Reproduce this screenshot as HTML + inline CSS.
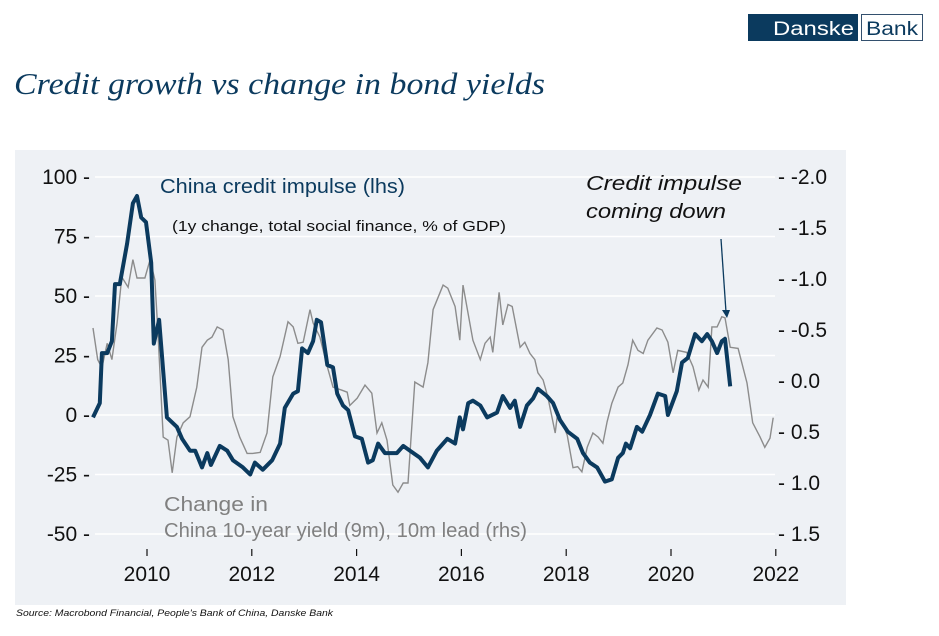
<!DOCTYPE html>
<html><head><meta charset="utf-8"><style>
html,body{margin:0;padding:0;background:#fff;}
body{width:939px;height:631px;overflow:hidden;position:relative;font-family:"Liberation Sans",sans-serif;}
</style></head><body>
<svg width="939" height="631" viewBox="0 0 939 631" xmlns="http://www.w3.org/2000/svg">
  <rect x="748" y="14" width="110" height="27" fill="#0b3a5e"/>
  <text x="773" y="35" textLength="81" lengthAdjust="spacingAndGlyphs" font-size="19" fill="#fff" font-family="Liberation Sans, sans-serif">Danske</text>
  <rect x="861.5" y="14.5" width="61" height="26" fill="#fff" stroke="#33506e"/>
  <text x="866" y="35" textLength="52" lengthAdjust="spacingAndGlyphs" font-size="19" fill="#0b3a5e" font-family="Liberation Sans, sans-serif">Bank</text>
  <text x="14" y="94" textLength="531" lengthAdjust="spacingAndGlyphs" font-size="31" font-style="italic" fill="#0b3a5e" font-family="Liberation Serif, serif">Credit growth vs change in bond yields</text>
  <rect x="15" y="150" width="831" height="455" fill="#eef1f5"/>
  <g id="grid"></g>
  <g id="axes" font-family="Liberation Sans, sans-serif" font-size="21" fill="#111"></g>
  <g id="series"></g>
  <text x="160" y="193" textLength="245" lengthAdjust="spacingAndGlyphs" font-size="20" fill="#0b3a5e">China credit impulse (lhs)</text>
  <text x="172" y="231" textLength="334" lengthAdjust="spacingAndGlyphs" font-size="15" fill="#111">(1y change, total social finance, % of GDP)</text>
  <text x="164" y="511" textLength="104" lengthAdjust="spacingAndGlyphs" font-size="20" fill="#808080">Change in</text>
  <text x="164" y="537" textLength="363" lengthAdjust="spacingAndGlyphs" font-size="20" fill="#808080">China 10-year yield (9m), 10m lead (rhs)</text>
  <text x="586" y="190" textLength="156" lengthAdjust="spacingAndGlyphs" font-size="20" font-style="italic" fill="#111">Credit impulse</text>
  <text x="586" y="218" textLength="140" lengthAdjust="spacingAndGlyphs" font-size="20" font-style="italic" fill="#111">coming down</text>
  <line x1="721" y1="239" x2="726" y2="312" stroke="#0b3a5e" stroke-width="1.3"/>
  <polygon points="722,310 730,310 727,318" fill="#0b3a5e"/>
  <text x="16" y="616" textLength="317" lengthAdjust="spacingAndGlyphs" font-size="9.5" font-style="italic" fill="#111">Source: Macrobond Financial, People's Bank of China, Danske Bank</text>
</svg>
<script>
const leftTicks=[100,75,50,25,0,-25,-50];
const leftTickLabels=["100","75","50","25","0","-25","-50"];
const rightTicks=[-2.0,-1.5,-1.0,-0.5,0.0,0.5,1.0,1.5];
const rightTickLabels=["-2.0","-1.5","-1.0","-0.5","0.0","0.5","1.0","1.5"];
const xTicks=[2010,2012,2014,2016,2018,2020,2022];
const xTickLabels=["2010","2012","2014","2016","2018","2020","2022"];
const creditDates=[2008.97,2009.10,2009.14,2009.24,2009.33,2009.39,2009.48,2009.62,2009.73,2009.81,2009.89,2009.98,2010.08,2010.13,2010.23,2010.38,2010.57,2010.67,2010.82,2010.92,2011.05,2011.15,2011.22,2011.39,2011.53,2011.64,2011.83,2011.97,2012.06,2012.21,2012.39,2012.54,2012.63,2012.79,2012.88,2012.96,2013.07,2013.17,2013.24,2013.32,2013.44,2013.55,2013.63,2013.74,2013.84,2013.97,2014.10,2014.22,2014.31,2014.41,2014.54,2014.77,2014.89,2015.02,2015.21,2015.36,2015.53,2015.73,2015.88,2015.97,2016.03,2016.13,2016.22,2016.36,2016.49,2016.68,2016.79,2016.93,2017.02,2017.12,2017.25,2017.37,2017.46,2017.63,2017.75,2017.88,2018.03,2018.21,2018.32,2018.45,2018.59,2018.74,2018.87,2018.99,2019.08,2019.14,2019.22,2019.35,2019.45,2019.60,2019.75,2019.89,2019.94,2020.11,2020.21,2020.32,2020.46,2020.59,2020.69,2020.78,2020.88,2020.97,2021.03,2021.13];
const creditValues=[-1,5,26,26,31,55,55,72,89,92,83,81,64,30,40,-1,-5,-10,-15,-15,-22,-16,-21,-13,-15,-19,-22,-25,-20,-23,-19,-12,3,9,10,28,26,31,40,39,21,20,9,4,2,-9,-10,-20,-19,-12,-16,-16,-13,-15,-18,-22,-15,-10,-12,-1,-6,5,6,4,-1,1,8,3,6,-5,4,7,11,8,5,-2,-7,-10,-16,-20,-22,-28,-27,-18,-16,-12,-14,-5,-7,0,9,8,0,10,22,24,34,31,34,31,26,31,32,12];
const yieldDates=[2008.97,2009.06,2009.14,2009.24,2009.33,2009.43,2009.52,2009.64,2009.73,2009.81,2009.96,2010.06,2010.15,2010.21,2010.31,2010.40,2010.48,2010.57,2010.69,2010.82,2010.95,2011.05,2011.15,2011.24,2011.34,2011.45,2011.55,2011.64,2011.77,2011.91,2012.02,2012.16,2012.29,2012.40,2012.54,2012.69,2012.79,2012.88,2012.98,2013.11,2013.17,2013.30,2013.44,2013.55,2013.72,2013.82,2013.87,2014.01,2014.16,2014.29,2014.39,2014.48,2014.58,2014.69,2014.79,2014.89,2014.98,2015.11,2015.27,2015.36,2015.46,2015.65,2015.74,2015.88,2015.97,2016.03,2016.22,2016.36,2016.45,2016.55,2016.60,2016.72,2016.79,2016.89,2016.97,2017.12,2017.21,2017.31,2017.40,2017.46,2017.56,2017.65,2017.79,2017.84,2018.02,2018.13,2018.22,2018.30,2018.40,2018.51,2018.61,2018.70,2018.78,2018.87,2018.99,2019.08,2019.18,2019.27,2019.37,2019.47,2019.56,2019.73,2019.83,2019.94,2020.04,2020.13,2020.30,2020.42,2020.53,2020.61,2020.71,2020.78,2020.88,2020.97,2021.03,2021.13,2021.28,2021.45,2021.56,2021.70,2021.79,2021.89,2021.95];
const yieldValues=[-0.52,-0.21,-0.13,-0.37,-0.21,-0.57,-1.02,-0.92,-1.19,-1.01,-1.01,-1.19,-0.99,-0.47,0.55,0.58,0.90,0.55,0.41,0.35,0.06,-0.33,-0.40,-0.43,-0.53,-0.50,-0.21,0.35,0.55,0.71,0.71,0.70,0.51,-0.04,-0.24,-0.58,-0.53,-0.37,-0.38,-0.70,-0.57,-0.43,-0.14,0.06,0.09,0.11,0.24,0.17,0.04,0.12,0.51,0.41,0.58,1.02,1.09,1.00,1.00,0.01,0.06,-0.18,-0.70,-0.94,-0.91,-0.73,-0.40,-0.94,-0.40,-0.21,-0.37,-0.43,-0.28,-0.87,-0.55,-0.75,-0.73,-0.33,-0.38,-0.27,-0.21,-0.08,-0.01,0.16,0.51,0.30,0.53,0.85,0.84,0.89,0.65,0.51,0.55,0.61,0.40,0.22,0.06,0.02,-0.16,-0.40,-0.30,-0.27,-0.40,-0.52,-0.50,-0.38,-0.08,-0.30,-0.28,-0.14,0.09,-0.01,0.06,-0.53,-0.53,-0.63,-0.62,-0.33,-0.32,0.02,0.41,0.55,0.65,0.56,0.36];

const NS='http://www.w3.org/2000/svg';
function xs(yr){return 147+(yr-2010)*52.4;}
function yl(v){return 415-v*2.38;}
function yr(v){return 381+v*102;}
function mk(tag,attrs,parent){const e=document.createElementNS(NS,tag);for(const k in attrs)e.setAttribute(k,attrs[k]);parent.appendChild(e);return e;}
const grid=document.getElementById('grid'),axes=document.getElementById('axes'),series=document.getElementById('series');
leftTicks.forEach((t,i)=>{
  const g=mk('line',{x1:95,x2:775,y1:yl(t),y2:yl(t),stroke:'#ffffff','stroke-width':1.5},grid);
  
  
  const tx=mk('text',{x:90,y:yl(t)+7,'text-anchor':'end'},axes);
  tx.textContent=leftTickLabels[i]+' -';
  
  
});
rightTicks.forEach((t,i)=>{
  const tx=mk('text',{x:778,y:yr(t)+7},axes);
  tx.textContent='- '+rightTickLabels[i];
  
  
});
xTicks.forEach((t,i)=>{
  const l=mk('line',{x1:xs(t),x2:xs(t),y1:549,y2:556,stroke:'#111','stroke-width':1.2},axes);
  
  
  const tx=mk('text',{x:xs(t),y:581,'text-anchor':'middle'},axes);
  tx.textContent=xTickLabels[i];
  
  
});
const yp=mk('polyline',{points:yieldDates.map((d,i)=>xs(d).toFixed(1)+','+yr(yieldValues[i]).toFixed(1)).join(' '),fill:'none',stroke:'#8c8c8c','stroke-width':1.4},series);


const cp=mk('polyline',{points:creditDates.map((d,i)=>xs(d).toFixed(1)+','+yl(creditValues[i]).toFixed(1)).join(' '),fill:'none',stroke:'#0b3a5e','stroke-width':4,'stroke-linejoin':'round'},series);


</script>
</body></html>
